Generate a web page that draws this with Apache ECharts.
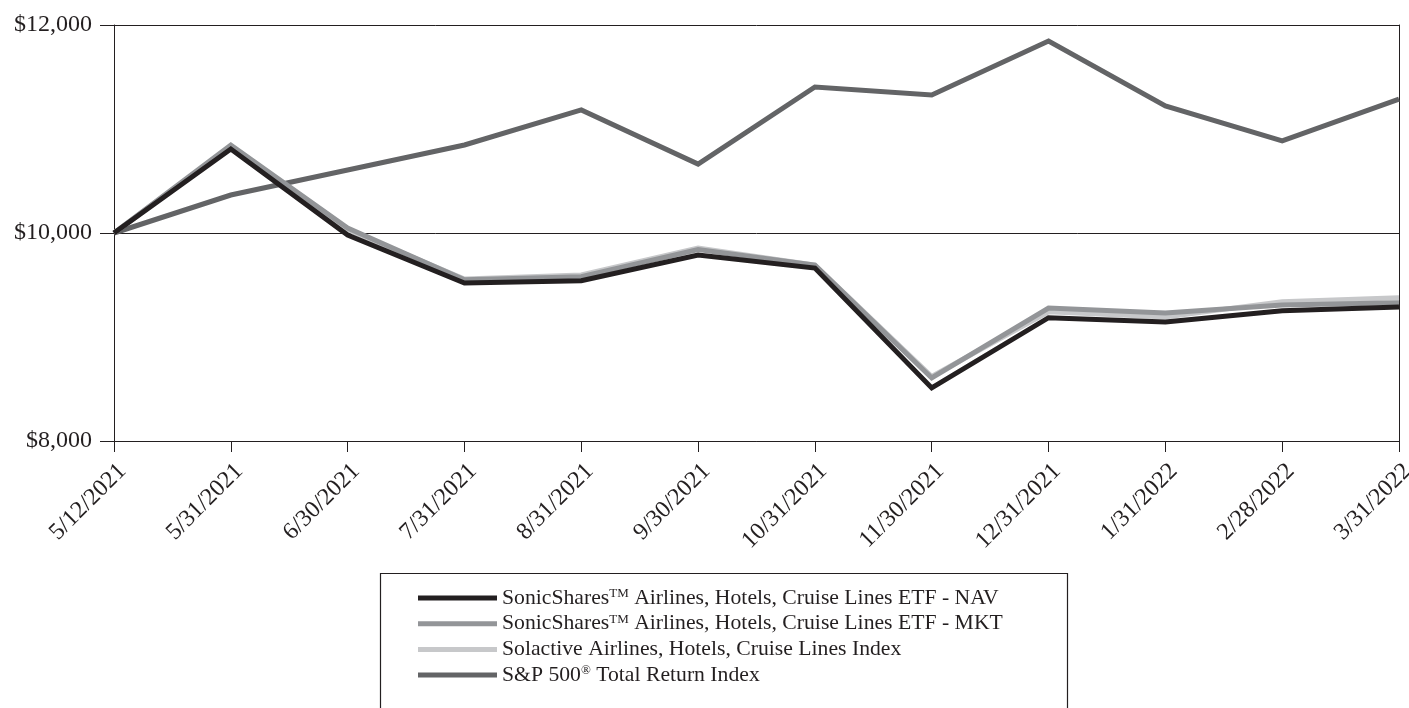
<!DOCTYPE html>
<html>
<head>
<meta charset="utf-8">
<script src="https://cdn.jsdelivr.net/npm/echarts@6/dist/echarts.min.js"></script>
<style>
html,body{margin:0;padding:0;background:#fff;}
#chart{width:1409px;height:708px;}
</style>
</head>
<body>
<div id="chart"></div>
<script>
const categories = ['5/12/2021','5/31/2021','6/30/2021','7/31/2021','8/31/2021','9/30/2021','10/31/2021','11/30/2021','12/31/2021','1/31/2022','2/28/2022','3/31/2022'];
const navValues = [10000,10808,9981,9519,9541,9788,9663,8510,9186,9144,9253,9288];
const mktValues = [10000,10846,10048,9550,9580,9840,9690,8606,9279,9231,9308,9330];
const indexValues = [10000,10830,10030,9558,9596,9856,9692,8620,9243,9192,9340,9378];
const spValues = [10000,10365,10606,10846,11183,10663,11404,11327,11846,11221,10885,11288];
const seriesNames = [
  'SonicShares™ Airlines, Hotels, Cruise Lines ETF - NAV',
  'SonicShares™ Airlines, Hotels, Cruise Lines ETF - MKT',
  'Solactive Airlines, Hotels, Cruise Lines Index',
  'S&P 500® Total Return Index'
];
const yTicks = [8000, 10000, 12000];

const FONT = '"Liberation Serif", "Times New Roman", serif';
const chart = echarts.init(document.getElementById('chart'), null, {renderer: 'canvas'});

function lineSeries(name, data, color, z) {
  return {
    name: name, type: 'line', data: data, symbol: 'none', z: z,
    lineStyle: {color: color, width: 5, join: 'miter'},
    itemStyle: {color: color},
    animation: false
  };
}

chart.setOption({
  backgroundColor: '#fff',
  animation: false,
  grid: {left: 114, right: 10, top: 25, bottom: 267, containLabel: false, outerBoundsMode: 'none'},
  xAxis: {
    type: 'category', data: categories, boundaryGap: false,
    axisLine: {lineStyle: {color: '#231f20', width: 1}},
    axisTick: {show: true, alignWithLabel: true, length: 11, inside: false, lineStyle: {color: '#231f20'}},
    axisLabel: {rotate: 45, fontFamily: FONT, fontSize: 24, color: '#231f20', margin: 18,
      verticalAlign: 'top', interval: 0, hideOverlap: false},
    splitLine: {show: false}
  },
  yAxis: [{
    type: 'value', min: yTicks[0], max: yTicks[yTicks.length - 1], interval: 2000,
    axisLine: {show: true, lineStyle: {color: '#231f20', width: 1}},
    axisTick: {show: true, length: 14, lineStyle: {color: '#231f20'}},
    axisLabel: {fontFamily: FONT, fontSize: 24, color: '#231f20', margin: 22,
      formatter: v => '$' + v.toLocaleString('en-US')},
    splitLine: {show: true, lineStyle: {color: '#231f20', width: 1}}
  }, {
    type: 'value', min: yTicks[0], max: yTicks[yTicks.length - 1], interval: 2000, position: 'right',
    axisLine: {show: true, lineStyle: {color: '#231f20', width: 1}},
    axisTick: {show: false}, axisLabel: {show: false}, splitLine: {show: false}
  }],
  legend: {
    orient: 'vertical', left: 413, top: 582,
    itemWidth: 79, itemHeight: 5, itemGap: 3.7, icon: 'rect',
    data: seriesNames,
    textStyle: {fontFamily: FONT, fontSize: 21.7, color: '#231f20', lineHeight: 22,
      rich: {s: {fontFamily: FONT, fontSize: 13, color: '#231f20', verticalAlign: 'top', lineHeight: 13}}},
    formatter: function (n) {
      return n.replace('™', '{s|TM}').replace('®', '{s|®}');
    },
    selectedMode: false
  },
  graphic: [{
    type: 'rect', shape: {x: 380.5, y: 573.5, width: 687, height: 150},
    style: {fill: 'none', stroke: '#231f20', lineWidth: 1.2}, silent: true
  }],
  series: [
    lineSeries(seriesNames[3], spValues, '#636466', 1),
    lineSeries(seriesNames[2], indexValues, '#c7c8ca', 2),
    lineSeries(seriesNames[1], mktValues, '#939598', 3),
    lineSeries(seriesNames[0], navValues, '#231f20', 4)
  ]
});
</script>
</body>
</html>
